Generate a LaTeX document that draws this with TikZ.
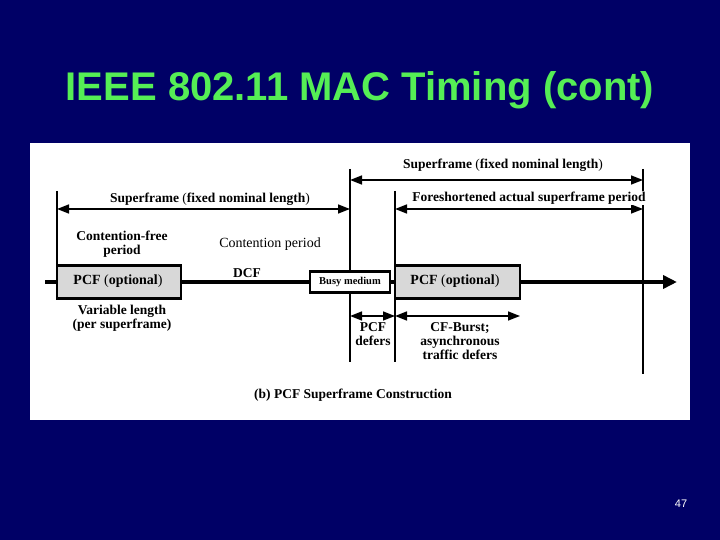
\documentclass[tikz,border=0pt]{standalone}
\usepackage{fontspec}
\setmainfont{Liberation Serif}
\newfontfamily\titlefont{Liberation Sans}
\usetikzlibrary{arrows.meta}
\definecolor{navy}{HTML}{000066}
\definecolor{ttl}{HTML}{55EE55}
\definecolor{boxgray}{HTML}{D8D8D8}
\begin{document}
\begin{tikzpicture}[x=1pt,y=-1pt,
  lbl/.style={font=\bfseries\fontsize{13.5}{14}\selectfont,align=center,inner sep=0pt},
  frame/.style={draw,line width=2.5pt,fill=boxgray,inner sep=0pt},
  vline/.style={line width=2pt},
  dim/.style={line width=1.6pt,{Triangle[length=12pt,width=9pt]}-{Triangle[length=12pt,width=9pt]}}]
\fill[navy] (0,0) rectangle (720,540);
\useasboundingbox (0,0) rectangle (720,540);
\node[text=ttl,font=\titlefont\bfseries\fontsize{40}{40}\selectfont] (title) at (360,90) {IEEE 802.11 MAC Timing (cont)};
\node[text=white,font=\titlefont\fontsize{11}{11}\selectfont] (num) at (681,504) {47};
\fill[white] (30,143) rectangle (690,420);
% main line
\coordinate (ls) at (45,282); \coordinate (le) at (677,282);
\draw[line width=3.5pt,-{Triangle[length=14pt,width=13pt]}] (ls) -- (le);
% verticals
\coordinate (a1) at (57,191); \coordinate (a2) at (57,265);
\coordinate (b1) at (350,169); \coordinate (b2) at (350,362);
\coordinate (c1) at (395,191); \coordinate (c2) at (395,362);
\coordinate (d1) at (643,169); \coordinate (d2) at (643,374);
\draw[vline] (a1) -- (a2); \draw[vline] (b1) -- (b2);
\draw[vline] (c1) -- (c2); \draw[vline] (d1) -- (d2);
% boxes
\node[frame,minimum width=124pt,minimum height=33pt] (pcf1) at (119,282) {};
\node[lbl,font=\bfseries\fontsize{14}{14}\selectfont] at (118,281) {PCF {\mdseries(}optional{\mdseries)}};
\node[frame,fill=white,minimum width=80pt,minimum height=21pt] (busy) at (350,282) {};
\node[lbl,font=\bfseries\fontsize{10.5}{10}\selectfont] at (busy) {Busy medium};
\node[frame,minimum width=125pt,minimum height=33pt] (pcf2) at (457.5,282) {};
\node[lbl,font=\bfseries\fontsize{14}{14}\selectfont] at (455,281) {PCF {\mdseries(}optional{\mdseries)}};
% dimension arrows
\coordinate (s1l) at (57,209); \coordinate (s1r) at (350,209);
\draw[dim] (s1l) -- (s1r);
\node[lbl] (s1t) at (210,199) {Superframe {\mdseries(}fixed nominal length{\mdseries)}};
\coordinate (s2l) at (350,180); \coordinate (s2r) at (643,180);
\draw[dim] (s2l) -- (s2r);
\node[lbl] (s2t) at (503,165) {Superframe {\mdseries(}fixed nominal length{\mdseries)}};
\coordinate (fl) at (395,209); \coordinate (fr) at (643,209);
\draw[dim] (fl) -- (fr);
\node[lbl,fill=white,inner sep=0.5pt] (ft) at (529,198) {Foreshortened actual superframe period};
\coordinate (pl) at (350,316); \coordinate (pr) at (395,316);
\draw[dim] (pl) -- (pr);
\coordinate (cr) at (520,316);
\draw[dim] (pr) -- (cr);
% texts
\node[lbl] (cfp) at (122,244) {Contention-free\\period};
\node[lbl,font=\fontsize{14}{14}\selectfont] (cp) at (270,244) {Contention period};
\node[lbl] (dcf) at (247,273) {DCF};
\node[lbl] (vl) at (122,318) {Variable length\\(per superframe)};
\node[lbl] (pd) at (373,334) {PCF\\defers};
\node[lbl] (cb) at (460,341) {CF-Burst;\\asynchronous\\traffic defers};
\node[lbl] (cap) at (353,395) {(b) PCF Superframe Construction};
\end{tikzpicture}
\end{document}
